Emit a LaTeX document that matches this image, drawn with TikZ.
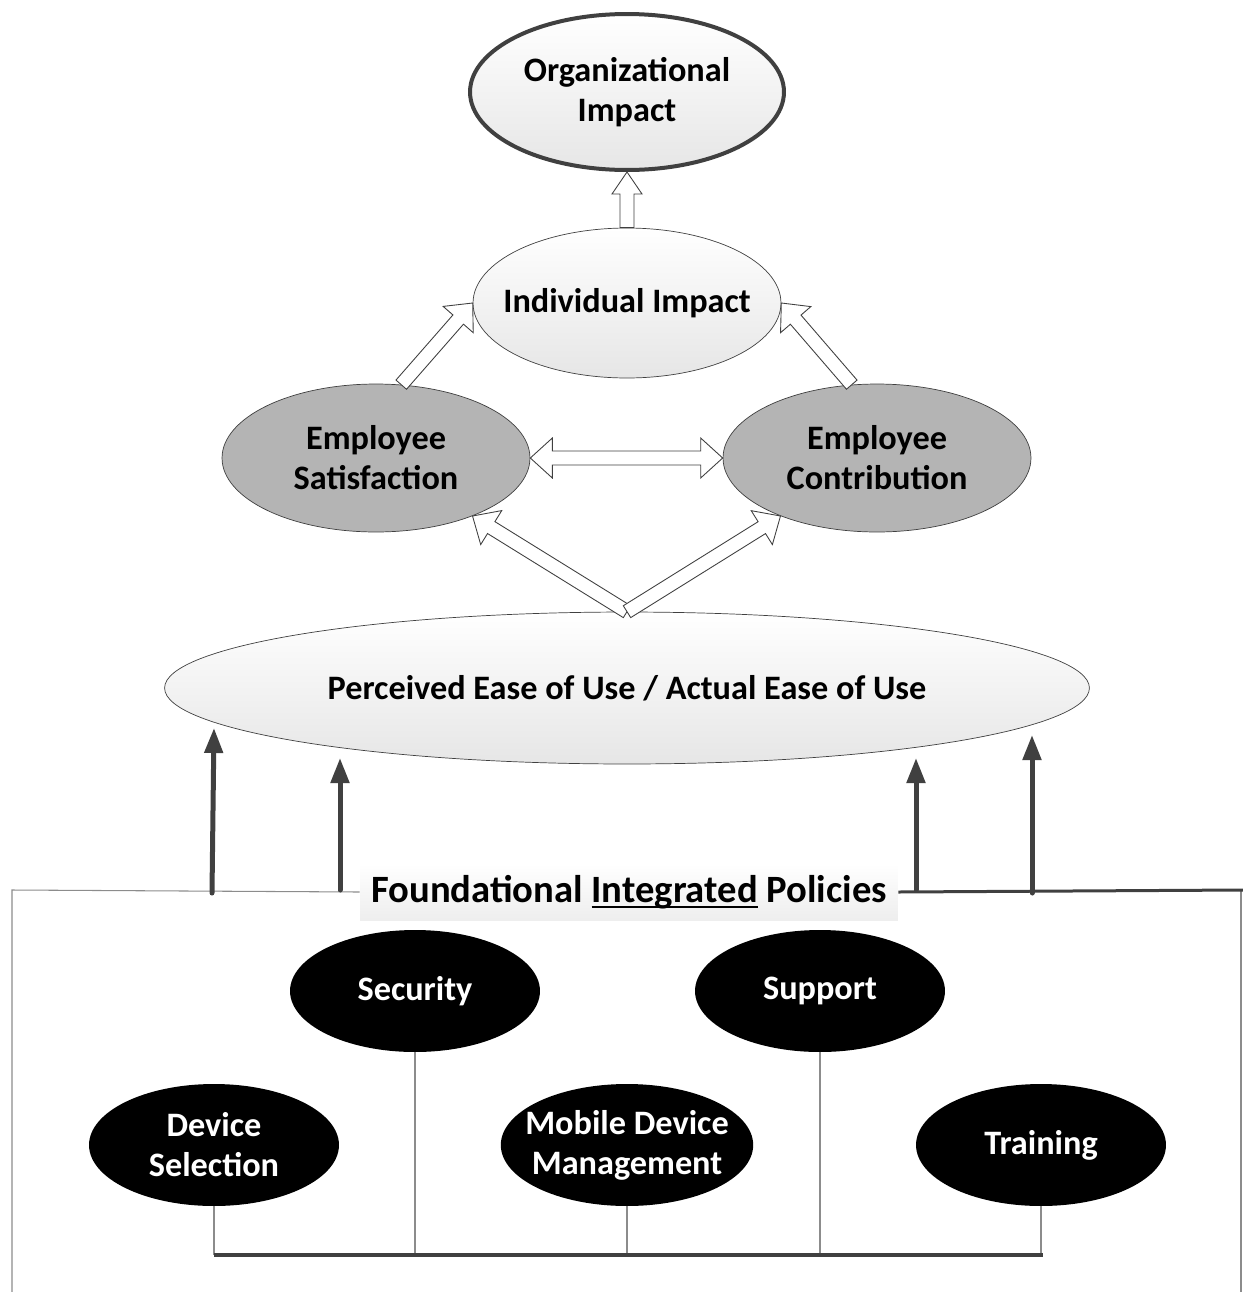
\documentclass[tikz,border=0pt]{standalone}
\usepackage{fontspec}
\setmainfont{Carlito}
\usetikzlibrary{arrows.meta, positioning, shapes.geometric, calc}
\definecolor{lineDark}{HTML}{404040}
\definecolor{lineGray}{HTML}{8C8C8C}
\definecolor{fillLight}{HTML}{E6E6E6}
\definecolor{fillMid}{HTML}{B4B4B4}

% thick underline
\newcommand{\thickul}[1]{\leavevmode\setbox0\hbox{#1}\rlap{\rule[-3.2pt]{\wd0}{1.3pt}}\box0\relax}

% hollow block arrows between two anchors
\newcommand{\shaftw}{0.14cm}
\newcommand{\headw}{0.4cm}
\newcommand{\headlen}{0.44cm}
\newcommand{\hollowarrow}[2]{%
  \coordinate (hb) at ($(#2)!\headlen!(#1)$);
  \draw[hollow] ($(#1)!\shaftw!90:(#2)$) -- ($(hb)!\shaftw!-90:(#1)$)
    -- ($(hb)!\headw!-90:(#1)$) -- (#2) -- ($(hb)!\headw!90:(#1)$)
    -- ($(hb)!\shaftw!90:(#1)$) -- ($(#1)!\shaftw!-90:(#2)$) -- cycle;
}
\newcommand{\hollowdarrow}[2]{%
  \coordinate (ha) at ($(#1)!\headlen!(#2)$);
  \coordinate (hb) at ($(#2)!\headlen!(#1)$);
  \draw[hollow] (#1) -- ($(ha)!\headw!90:(#2)$) -- ($(ha)!\shaftw!90:(#2)$)
    -- ($(hb)!\shaftw!-90:(#1)$) -- ($(hb)!\headw!-90:(#1)$) -- (#2)
    -- ($(hb)!\headw!90:(#1)$) -- ($(hb)!\shaftw!90:(#1)$)
    -- ($(ha)!\shaftw!-90:(#2)$) -- ($(ha)!\headw!-90:(#2)$) -- cycle;
}

\tikzset{
  txt/.style={font=\fontsize{19.5}{22.8}\selectfont\bfseries, align=center},
  impact/.style={ellipse, draw=lineDark, top color=white, bottom color=fillLight, inner sep=0pt, txt},
  employee/.style={ellipse, draw=lineDark, fill=fillMid, inner sep=0pt, txt,
    minimum width=6.16cm, minimum height=2.96cm},
  policy/.style={ellipse, fill=black, text=white, inner sep=0pt, txt,
    minimum width=5cm, minimum height=2.44cm},
  hollow/.style={draw=lineDark, line width=0.5pt, fill=white, line join=miter},
  pusharrow/.style={lineDark, line width=0.1cm, line cap=round, -{Triangle[length=0.5cm, width=0.36cm]}},
  thinline/.style={lineGray, line width=0.6pt},
  busline/.style={lineDark, line width=0.09cm}
}

\begin{document}
\begin{tikzpicture}[x=0.02cm, y=-0.02cm]
    \useasboundingbox (0,0) rectangle (1243,1292);

    % outcome levels
    \node[impact, line width=0.08cm, minimum width=6.28cm, minimum height=3.12cm] (org) at (627, 92) {Organizational\\Impact};
    \node[impact, inner xsep=-0.3cm, minimum width=6.16cm, minimum height=3cm] (ind) at (627, 303) {Individual Impact};
    \node[employee] (sat) at (376, 458) {Employee\\Satisfaction};
    \node[employee] (con) at (877, 458) {Employee\\Contribution};
    \node[impact, minimum width=18.5cm, minimum height=3.04cm] (pe) at (627, 688) {Perceived Ease of Use / Actual Ease of Use};

    % hollow arrows
    {\renewcommand{\headw}{0.3cm}\hollowarrow{ind.north}{org.south}}
    \hollowarrow{sat.71}{ind.west}
    \hollowarrow{con.109}{ind.east}
    \hollowdarrow{sat.east}{con.west}
    \hollowarrow{pe.north}{sat.-31}
    \hollowarrow{pe.north}{con.211}

    % frame of the policies
    \coordinate (fl) at (12, 890);
    \coordinate (fr) at (1241, 890);
    \coordinate (frr) at (1243, 890);
    \coordinate (flb) at (12, 1292);
    \coordinate (frb) at (1241, 1292);
    \node[txt, font=\fontsize{22}{26}\selectfont\bfseries, top color=white, bottom color=fillLight!70, minimum width=10.76cm, minimum height=1.14cm, inner sep=0pt] (fip) at (629, 892) {Foundational \thickul{Integrated} Policies};
    \draw[thinline] (flb) -- (fl) -- (fip.west);
    \draw[thinline] (fr) -- (frb);
    \draw[lineDark, line width=0.06cm] (fip.east) -- (frr);

    % arrows into ease of use
    \coordinate (b1) at (212, 893);
    \coordinate (b2) at (340, 890);
    \coordinate (b3) at (916, 890);
    \coordinate (b4) at (1032, 893);
    \coordinate (t1) at (214, 728);
    \coordinate (t2) at (340, 758);
    \coordinate (t3) at (916, 758);
    \coordinate (t4) at (1032, 735);
    \foreach \i in {1,...,4}
        \draw[pusharrow] (b\i) -- (t\i);

    % policy areas
    \node[policy] (sec) at (415, 991) {Security};
    \node[policy] (sup) at (820, 991) {Support};
    \node[policy] (dev) at (214, 1145) {Device\\Selection};
    \node[policy, inner xsep=-0.25cm] (mdm) at (627, 1145) {Mobile Device\\Management};
    \node[policy] (trn) at (1041, 1145) {Training};

    \coordinate (busl) at (214, 1255);
    \coordinate (busr) at (1043, 1255);
    \foreach \n in {dev, sec, mdm, sup, trn}
        \draw[thinline] (\n.south) -- (\n.south |- busl);
    \draw[busline] (busl) -- (busr);
\end{tikzpicture}
\end{document}
